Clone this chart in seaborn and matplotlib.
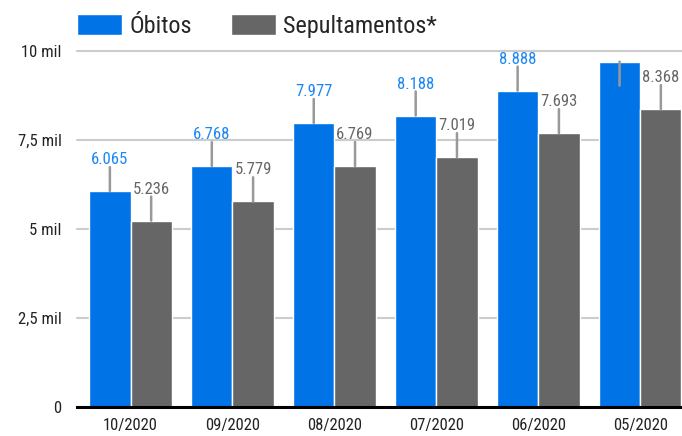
import matplotlib
matplotlib.use("Agg")
import matplotlib.pyplot as plt
from matplotlib import font_manager
import seaborn as sns
import pandas as pd

# dados
meses = ["10/2020", "09/2020", "08/2020", "07/2020", "06/2020", "05/2020"]
obitos = [6065, 6768, 7977, 8188, 8888, 9700]
sepultamentos = [5236, 5779, 6769, 7019, 7693, 8368]
series = ["Óbitos", "Sepultamentos*"]
y_ticks = [0, 2500, 5000, 7500, 10000]
y_tick_labels = ["0", "2,5 mil", "5 mil", "7,5 mil", "10 mil"]

cores = {"Óbitos": "#0073e6", "Sepultamentos*": "#666666"}
cores_rotulo = {"Óbitos": "#1a86f5", "Sepultamentos*": "#666666"}
cor_haste = "#999999"
haste_px = 24


def escolhe_fonte(*nomes):
    disponiveis = {f.name for f in font_manager.fontManager.ttflist}
    for nome in nomes:
        if nome in disponiveis:
            return nome
    return "DejaVu Sans"


def formata(v):
    return f"{v:,}".replace(",", ".")


df = pd.DataFrame({
    "mes": meses * 2,
    "serie": [series[0]] * len(meses) + [series[1]] * len(meses),
    "valor": obitos + sepultamentos,
})
valores = {series[0]: obitos, series[1]: sepultamentos}

sns.set_style("white")
fonte = escolhe_fonte("Roboto Condensed", "Liberation Sans Narrow", "Roboto")
plt.rcParams["font.family"] = [fonte, "DejaVu Sans"]

fig = plt.figure(figsize=(6.82, 4.36), dpi=100)
ax = fig.add_axes([77 / 682, 29 / 436, 605 / 682, 356 / 436])

sns.barplot(data=df, x="mes", y="valor", hue="serie", palette=cores,
            hue_order=series, width=0.81, saturation=1,
            edgecolor="white", linewidth=1, ax=ax)

ax.set_ylim(0, 10000)
ax.set_xlim(-0.525, 5.41)
ax.set_yticks(y_ticks)
ax.set_yticklabels(y_tick_labels)
ax.set_xlabel("")
ax.set_ylabel("")

ax.set_axisbelow(True)
ax.yaxis.grid(True, color="#cccccc", lw=1.5)
for gl in ax.get_ygridlines():
    gl.set_clip_on(False)
for lado in ["left", "right", "top"]:
    ax.spines[lado].set_visible(False)
ax.spines["bottom"].set_color("black")
ax.spines["bottom"].set_linewidth(2.2)
ax.spines["bottom"].set_zorder(5)

ax.tick_params(axis="y", length=0, pad=11, labelsize=12, labelcolor="#222222")
ax.tick_params(axis="x", length=0, pad=8, labelsize=12, labelcolor="#222222")

# hastes e rotulos de valor
for container, serie in zip(ax.containers, series):
    for barra, valor in zip(container, valores[serie]):
        x = barra.get_x() + barra.get_width() / 2
        topo = ax.transData.transform((x, valor))[1]
        if topo + haste_px <= ax.bbox.y1:
            ax.annotate("", xy=(x, valor), xytext=(0, haste_px),
                        textcoords="offset pixels",
                        arrowprops=dict(arrowstyle="-", color=cor_haste, lw=1.8,
                                        shrinkA=0, shrinkB=0))
            ax.annotate(formata(valor), xy=(x, valor), xytext=(0, haste_px + 3),
                        textcoords="offset pixels", ha="center", va="baseline",
                        fontsize=12, color=cores_rotulo[serie])
        else:
            # sem espaco acima: a haste fica dentro da barra e o rotulo some
            ax.annotate("", xy=(x, valor), xytext=(0, -haste_px),
                        textcoords="offset pixels",
                        arrowprops=dict(arrowstyle="-", color=cor_haste, lw=1.8,
                                        shrinkA=0, shrinkB=0))

h, l = ax.get_legend_handles_labels()
ax.legend(h, l, loc="upper left", bbox_to_anchor=(77 / 682, 1 - 14 / 436),
          bbox_transform=fig.transFigure, ncol=2, frameon=False, fontsize=17.5,
          handlelength=1.85, handleheight=0.95, handletextpad=0.3,
          columnspacing=1.6, borderpad=0, borderaxespad=0)

fig.savefig("out.png", dpi=100)
